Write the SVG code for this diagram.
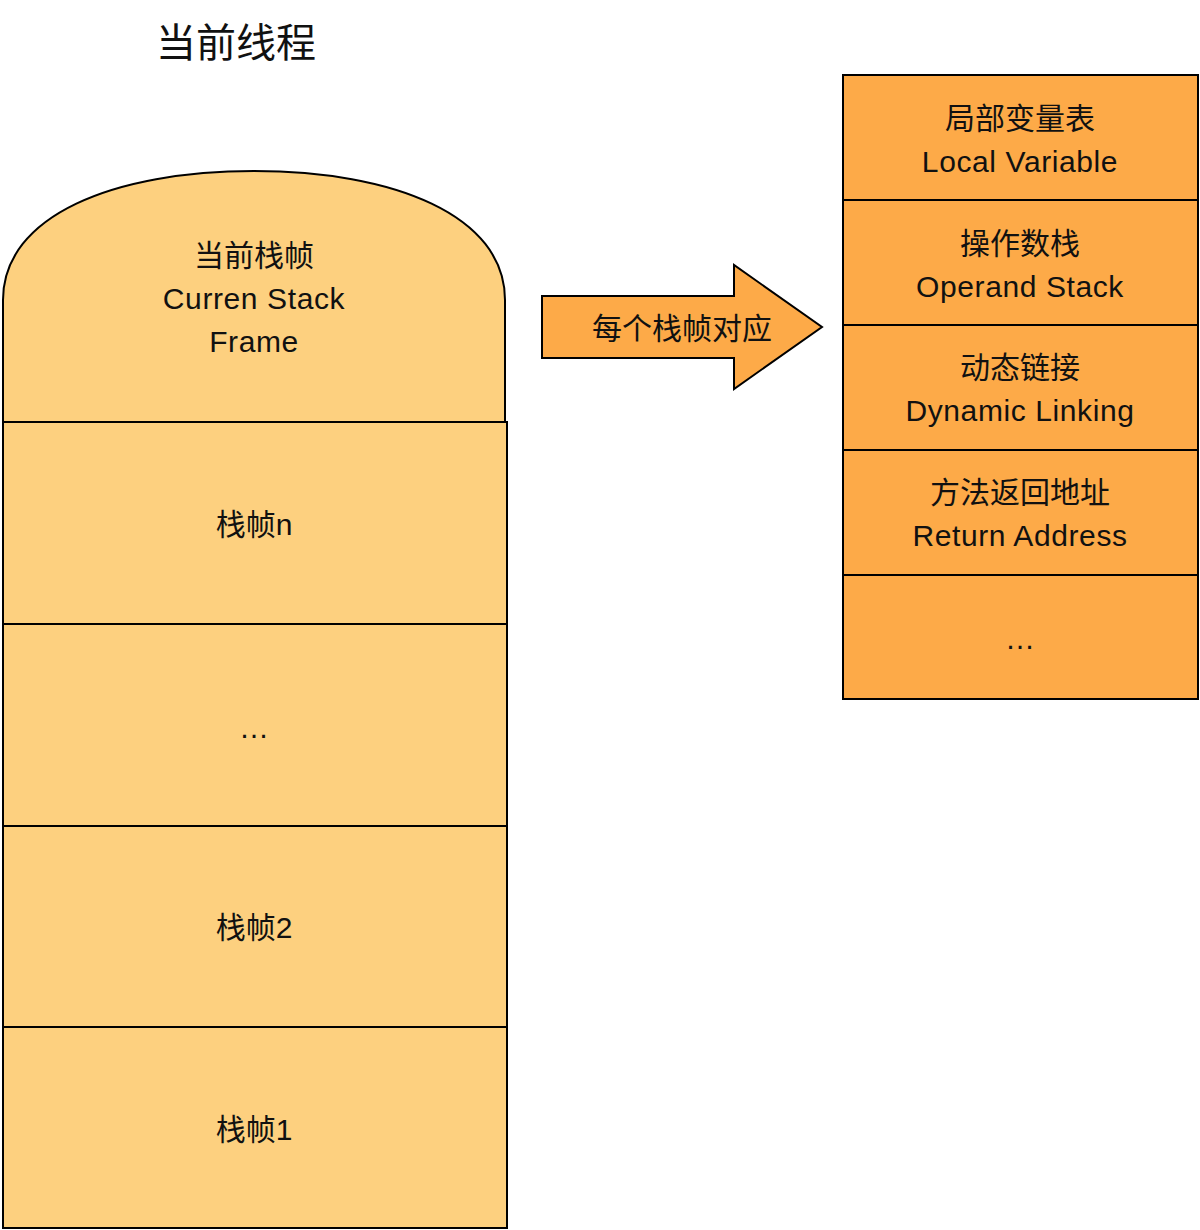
<svg xmlns="http://www.w3.org/2000/svg" width="1200" height="1230" viewBox="0 0 1200 1230">
<style>
text{font-family:"Liberation Sans","Noto Sans CJK SC",sans-serif;font-size:30px;fill:#111;text-anchor:middle}
.en{letter-spacing:0.6px}
.l{fill:#FDD07F;stroke:#000;stroke-width:2}
.r{fill:#FDAA48;stroke:#000;stroke-width:2}
.t{font-size:40px}
</style>
<rect width="1200" height="1230" fill="#fff"/>
<text class="t" x="236" y="57">当前线程</text>
<g id="current-frame">
<path class="l" d="M3,422 V300 C3,215 115,171 254,171 C393,171 505,215 505,300 V422 Z"/>
<text x="254" y="266">当前栈帧</text>
<text class="en" x="254" y="309">Curren Stack</text>
<text class="en" x="254" y="352">Frame</text>
</g>
<g id="frame-n"><rect class="l" x="3" y="422" width="504" height="202"/><text x="254" y="535">栈帧n</text></g>
<g id="frame-dots"><rect class="l" x="3" y="624" width="504" height="202"/><text x="254" y="738">…</text></g>
<g id="frame-2"><rect class="l" x="3" y="826" width="504" height="201"/><text x="254" y="938">栈帧2</text></g>
<g id="frame-1"><rect class="l" x="3" y="1027" width="504" height="201"/><text x="254" y="1140">栈帧1</text></g>
<g id="connectors">
<g id="arrow">
<path class="r" d="M542,296 H734 V265 L822,327 L734,389 V358 H542 Z"/>
<text x="682" y="339">每个栈帧对应</text>
</g>
</g>
<g id="local-variable"><rect class="r" x="843" y="75" width="355" height="125"/><text x="1020" y="129">局部变量表</text><text class="en" x="1020" y="172">Local Variable</text></g>
<g id="operand-stack"><rect class="r" x="843" y="200" width="355" height="125"/><text x="1020" y="254">操作数栈</text><text class="en" x="1020" y="297">Operand Stack</text></g>
<g id="dynamic-linking"><rect class="r" x="843" y="325" width="355" height="125"/><text x="1020" y="378">动态链接</text><text class="en" x="1020" y="421">Dynamic Linking</text></g>
<g id="return-address"><rect class="r" x="843" y="450" width="355" height="125"/><text x="1020" y="503">方法返回地址</text><text class="en" x="1020" y="546">Return Address</text></g>
<g id="more"><rect class="r" x="843" y="575" width="355" height="124"/><text x="1020" y="649">…</text></g>
</svg>
